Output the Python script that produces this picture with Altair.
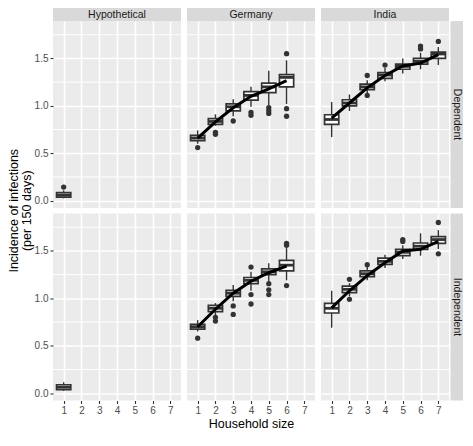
import altair as alt
import pandas as pd

COUNTRIES = ["Hypothetical", "Germany", "India"]
MODELS = ["Dependent", "Independent"]
X_TICKS = [1, 2, 3, 4, 5, 6, 7]
Y_MAJOR = [0.0, 0.5, 1.0, 1.5]
Y_MINOR = [0.25, 0.75, 1.25, 1.75]
Y_TITLE_1 = "Incidence of infections"
Y_TITLE_2 = "(per 150 days)"
X_TITLE = "Household size"

# ---------------- Hypothetical / Dependent ----------------
HYP_DEP_SIZE = [1]
HYP_DEP_LO = [0.024]
HYP_DEP_Q1 = [0.036]
HYP_DEP_MED = [0.058]
HYP_DEP_Q3 = [0.084]
HYP_DEP_HI = [0.108]
HYP_DEP_MEAN = [0.060]
HYP_DEP_OUT_SIZE = [1]
HYP_DEP_OUT = [0.143]

# ---------------- Germany / Dependent ----------------
GER_DEP_SIZE = [1, 2, 3, 4, 5, 6]
GER_DEP_LO = [0.60, 0.79, 0.89, 0.99, 1.01, 1.02]
GER_DEP_Q1 = [0.632, 0.805, 0.946, 1.06, 1.14, 1.20]
GER_DEP_MED = [0.66, 0.835, 0.99, 1.11, 1.20, 1.30]
GER_DEP_Q3 = [0.688, 0.866, 1.02, 1.15, 1.24, 1.33]
GER_DEP_HI = [0.74, 0.91, 1.07, 1.20, 1.37, 1.48]
GER_DEP_MEAN = [0.66, 0.83, 0.98, 1.10, 1.18, 1.265]
GER_DEP_OUT_SIZE = [1, 2, 2, 3, 4, 4, 5, 5, 5, 6, 6, 6]
GER_DEP_OUT = [0.56, 0.72, 0.70, 0.84, 0.93, 0.90, 0.98, 0.95, 0.92, 1.55, 0.97, 0.89]

# ---------------- India / Dependent ----------------
IND_DEP_SIZE = [1, 2, 3, 4, 5, 6, 7]
IND_DEP_LO = [0.67, 0.946, 1.13, 1.26, 1.34, 1.386, 1.43]
IND_DEP_Q1 = [0.805, 1.0, 1.17, 1.29, 1.386, 1.44, 1.50]
IND_DEP_MED = [0.856, 1.03, 1.20, 1.325, 1.416, 1.47, 1.547]
IND_DEP_Q3 = [0.906, 1.064, 1.23, 1.35, 1.44, 1.50, 1.567]
IND_DEP_HI = [1.04, 1.12, 1.27, 1.40, 1.50, 1.56, 1.62]
IND_DEP_MEAN = [0.87, 1.03, 1.19, 1.32, 1.42, 1.45, 1.54]
IND_DEP_OUT_SIZE = [3, 3, 4, 6, 6, 7]
IND_DEP_OUT = [1.32, 1.11, 1.43, 1.63, 1.60, 1.68]

# ---------------- Hypothetical / Independent ----------------
HYP_IND_SIZE = [1]
HYP_IND_LO = [0.024]
HYP_IND_Q1 = [0.036]
HYP_IND_MED = [0.062]
HYP_IND_Q3 = [0.088]
HYP_IND_HI = [0.115]
HYP_IND_MEAN = [0.062]
HYP_IND_OUT_SIZE = []
HYP_IND_OUT = []

# ---------------- Germany / Independent ----------------
GER_IND_SIZE = [1, 2, 3, 4, 5, 6]
GER_IND_LO = [0.65, 0.82, 0.97, 1.08, 1.18, 1.19]
GER_IND_Q1 = [0.676, 0.86, 1.02, 1.155, 1.25, 1.29]
GER_IND_MED = [0.70, 0.895, 1.054, 1.19, 1.28, 1.35]
GER_IND_Q3 = [0.726, 0.926, 1.084, 1.22, 1.31, 1.40]
GER_IND_HI = [0.77, 0.95, 1.14, 1.28, 1.37, 1.53]
GER_IND_MEAN = [0.70, 0.885, 1.054, 1.18, 1.27, 1.34]
GER_IND_OUT_SIZE = [1, 2, 2, 3, 3, 4, 4, 4, 5, 5, 5, 6, 6, 6]
GER_IND_OUT = [0.58, 0.80, 0.76, 0.92, 0.83, 1.33, 1.04, 0.94, 1.155, 1.09, 1.04, 1.58, 1.56, 1.135]

# ---------------- India / Independent ----------------
IND_IND_SIZE = [1, 2, 3, 4, 5, 6, 7]
IND_IND_LO = [0.69, 1.02, 1.19, 1.32, 1.415, 1.45, 1.52]
IND_IND_Q1 = [0.845, 1.06, 1.23, 1.358, 1.45, 1.517, 1.58]
IND_IND_MED = [0.895, 1.095, 1.26, 1.39, 1.486, 1.55, 1.62]
IND_IND_Q3 = [0.946, 1.128, 1.29, 1.425, 1.517, 1.584, 1.65]
IND_IND_HI = [1.08, 1.16, 1.33, 1.46, 1.56, 1.686, 1.72]
IND_IND_MEAN = [0.90, 1.08, 1.24, 1.375, 1.50, 1.517, 1.60]
IND_IND_OUT_SIZE = [2, 2, 3, 5, 5, 7, 7]
IND_IND_OUT = [1.20, 0.99, 1.355, 1.62, 1.60, 1.80, 1.47]

W, H = 128, 187
HALF = 0.4
FONT = "Liberation Sans"
DARK = "#333333"
STRIP = "#D9D9D9"
STRIP_H = 13
STRIP_W = 12.5

XS = alt.Scale(domain=[0.4, 7.6], nice=False, zero=False)
YS = alt.Scale(domain=[-0.078, 1.895], nice=False, zero=False)


def panel(country, model, size, lo, q1, med, q3, hi, mean, out_size, out_val,
          col, row):
    box = pd.DataFrame({"size": size, "lo": lo, "q1": q1, "med": med,
                        "q3": q3, "hi": hi, "mean": mean})
    outs = pd.DataFrame({"size": out_size, "val": out_val})
    minor = pd.DataFrame({"v": Y_MINOR})

    bottom = row == 1
    left = col == 0
    if bottom:
        xaxis = alt.Axis(values=X_TICKS, format="d", grid=True, domain=False)
    else:
        xaxis = alt.Axis(values=X_TICKS, grid=True, labels=False, ticks=False,
                         domain=False)
    if left:
        yaxis = alt.Axis(values=Y_MAJOR, format=".1f", grid=True, domain=False)
    else:
        yaxis = alt.Axis(values=Y_MAJOR, grid=True, labels=False, ticks=False,
                         domain=False)
    xtitle = X_TITLE if (bottom and country == "Germany") else None

    def X(f):
        return alt.X(f"{f}:Q", scale=XS, axis=xaxis, title=xtitle)

    def Y(f):
        return alt.Y(f"{f}:Q", scale=YS, axis=yaxis, title=None)

    base = alt.Chart(box).transform_calculate(
        x0=f"datum.size - {HALF}", x1=f"datum.size + {HALF}")

    layers = [
        alt.Chart(minor).mark_rule(color="white", strokeWidth=1.0).encode(y=Y("v")),
        base.mark_rule(color=DARK, strokeWidth=1.4).encode(
            x=X("size"), y=Y("lo"), y2="hi"),
        base.mark_rect(fill="white", stroke=DARK, strokeWidth=1.7).encode(
            x=X("x0"), x2="x1", y=Y("q1"), y2="q3"),
        base.mark_rule(color=DARK, strokeWidth=2.8).encode(
            x=X("x0"), x2="x1", y=Y("med")),
    ]
    if len(out_val):
        layers.append(alt.Chart(outs).mark_circle(color=DARK, opacity=1, size=28).encode(
            x=X("size"), y=Y("val")))
    layers.append(base.mark_line(color="black", strokeWidth=3).encode(
        x=X("size"), y=Y("mean")))

    lab = pd.DataFrame({"label": [country], "model": [model]})
    if row == 0:
        layers.append(alt.Chart(lab).mark_rect(fill=STRIP).encode(
            x=alt.value(0), x2=alt.value(W), y=alt.value(-STRIP_H), y2=alt.value(0)))
        layers.append(alt.Chart(lab).mark_text(
            font=FONT, fontSize=10.5, color="#1A1A1A", baseline="middle").encode(
            x=alt.value(W / 2), y=alt.value(-STRIP_H / 2), text="label:N"))
    if col == 2:
        layers.append(alt.Chart(lab).mark_rect(fill=STRIP).encode(
            x=alt.value(W + 1.5), x2=alt.value(W + 1.5 + STRIP_W), y=alt.value(0),
            y2=alt.value(H)))
        layers.append(alt.Chart(lab).mark_text(
            font=FONT, fontSize=10.5, color="#1A1A1A", angle=90,
            baseline="middle", align="center").encode(
            x=alt.value(W + 1.5 + STRIP_W / 2), y=alt.value(H / 2), text="model:N"))
    if row == 0 and col == 0:
        layers.append(alt.Chart(lab).mark_text(
            font=FONT, fontSize=12.5, color="black", angle=270,
            baseline="middle", align="center", text=Y_TITLE_1).encode(
            x=alt.value(-39), y=alt.value(H + 2.75)))
        layers.append(alt.Chart(lab).mark_text(
            font=FONT, fontSize=12.5, color="black", angle=270,
            baseline="middle", align="center", text=Y_TITLE_2).encode(
            x=alt.value(-26.5), y=alt.value(H + 2.75)))
    return alt.layer(*layers).properties(width=W, height=H)


panels = [
    panel("Hypothetical", "Dependent", HYP_DEP_SIZE, HYP_DEP_LO, HYP_DEP_Q1, HYP_DEP_MED,
          HYP_DEP_Q3, HYP_DEP_HI, HYP_DEP_MEAN, HYP_DEP_OUT_SIZE, HYP_DEP_OUT, 0, 0),
    panel("Germany", "Dependent", GER_DEP_SIZE, GER_DEP_LO, GER_DEP_Q1, GER_DEP_MED,
          GER_DEP_Q3, GER_DEP_HI, GER_DEP_MEAN, GER_DEP_OUT_SIZE, GER_DEP_OUT, 1, 0),
    panel("India", "Dependent", IND_DEP_SIZE, IND_DEP_LO, IND_DEP_Q1, IND_DEP_MED,
          IND_DEP_Q3, IND_DEP_HI, IND_DEP_MEAN, IND_DEP_OUT_SIZE, IND_DEP_OUT, 2, 0),
    panel("Hypothetical", "Independent", HYP_IND_SIZE, HYP_IND_LO, HYP_IND_Q1, HYP_IND_MED,
          HYP_IND_Q3, HYP_IND_HI, HYP_IND_MEAN, HYP_IND_OUT_SIZE, HYP_IND_OUT, 0, 1),
    panel("Germany", "Independent", GER_IND_SIZE, GER_IND_LO, GER_IND_Q1, GER_IND_MED,
          GER_IND_Q3, GER_IND_HI, GER_IND_MEAN, GER_IND_OUT_SIZE, GER_IND_OUT, 1, 1),
    panel("India", "Independent", IND_IND_SIZE, IND_IND_LO, IND_IND_Q1, IND_IND_MED,
          IND_IND_Q3, IND_IND_HI, IND_IND_MEAN, IND_IND_OUT_SIZE, IND_IND_OUT, 2, 1),
]

chart = alt.concat(
    *panels, columns=3, spacing={"row": 5.5, "column": 6}, bounds="flush"
).properties(padding=0).configure_view(
    fill="#EBEBEB", strokeWidth=0
).configure_axis(
    labelFont=FONT, labelFontSize=10, labelColor="#4D4D4D",
    tickColor=DARK, tickSize=3, tickWidth=1.1, labelPadding=2,
    gridColor="white", gridWidth=1.6,
    titleFont=FONT, titleFontSize=12.5, titleColor="black",
    titleFontWeight="normal", titlePadding=2,
)

chart.save("out.html", embed_options={"renderer": "svg", "actions": False})
